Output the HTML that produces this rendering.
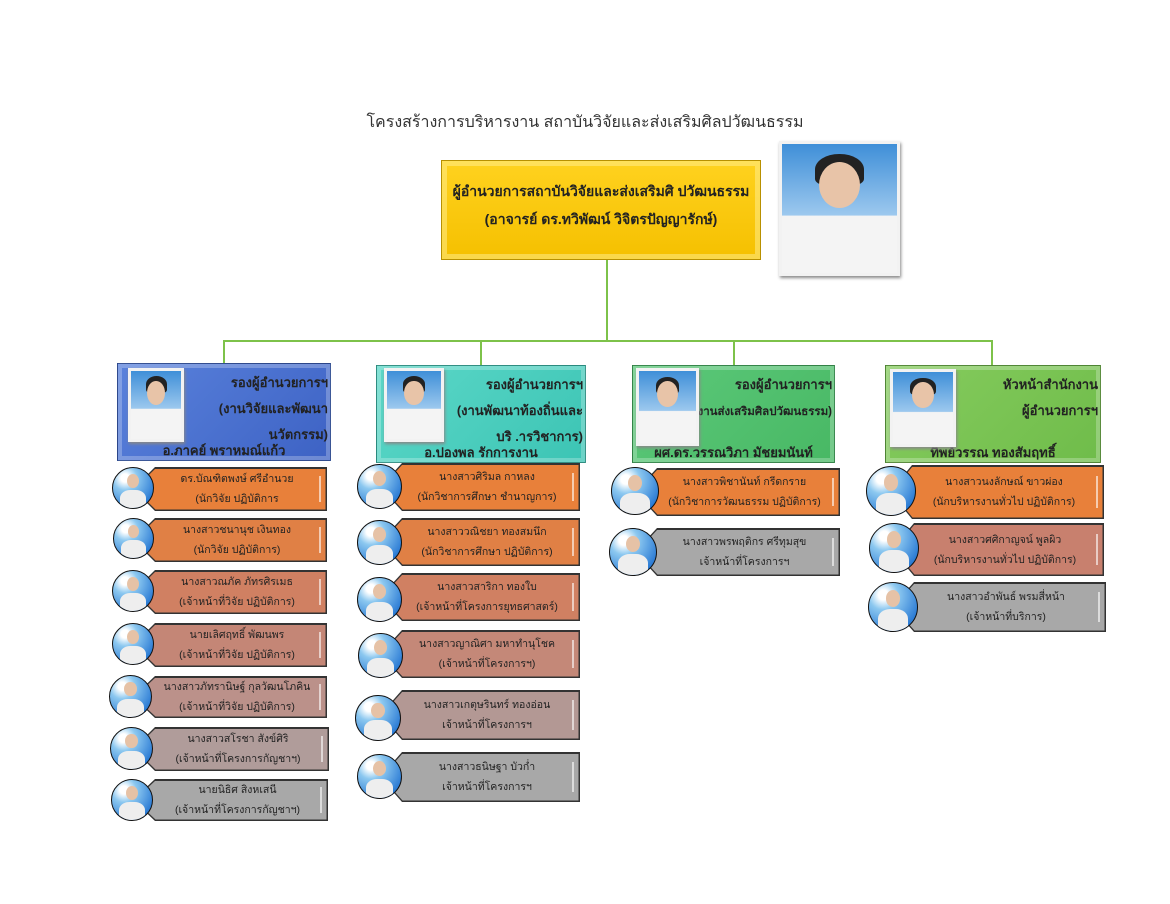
<!DOCTYPE html>
<html><head><meta charset="utf-8">
<style>
*{box-sizing:border-box;margin:0;padding:0}
body{width:1170px;height:904px;background:#fff;position:relative;overflow:hidden;font-family:"Liberation Sans","DejaVu Sans","Noto Sans CJK SC",sans-serif;color:#222}
.a{position:absolute}
.title{left:0;width:1170px;top:110px;text-align:center;font-size:16px;color:#333}
.gl{background:#7dc24a;position:absolute}
.dir{left:441px;top:160px;width:320px;height:100px;background:linear-gradient(#ffd21f,#f5c000);border:1px solid #b89000;box-shadow:inset 0 0 0 5px rgba(255,240,150,.5);text-align:center;font-weight:bold;font-size:14px;line-height:28px;padding-top:16px;color:#222}
.photo{position:absolute;background:linear-gradient(#3f8fd8,#9cc8ee 55%,#f4f4f4 56%);border:3px solid #f2f2f2;box-shadow:1px 2px 3px #888;overflow:hidden}
.photo::before{content:"";position:absolute;left:29%;top:8%;width:42%;height:24%;border-radius:50% 50% 20% 20%;background:#222}
.photo::after{content:"";position:absolute;left:32%;top:14%;width:36%;height:36%;border-radius:50%;background:#e8c4a8}
.dept{position:absolute;height:98px;border:1px solid rgba(0,0,0,.3);box-shadow:inset 0 0 0 4px rgba(255,255,255,.25);font-size:13px;font-weight:bold;color:#222;text-align:right;line-height:26px;padding:6px 2px 0 0}
.dept .nm{position:absolute;left:0;right:0;bottom:-4px;text-align:center}
.pill{position:absolute;background:#333;clip-path:polygon(0 50%,22px 0,100% 0,100% 100%,22px 100%)}
.pill i{position:absolute;left:1.5px;top:1.5px;right:1.5px;bottom:1.5px;clip-path:polygon(0 50%,21px 0,100% 0,100% 100%,21px 100%)}
.pill span{position:absolute;left:22px;right:8px;top:0;bottom:0;display:flex;flex-direction:column;justify-content:center;text-align:center;font-size:10.5px;line-height:20px;color:#222}
.pill b{position:absolute;right:6px;top:20%;height:60%;width:2px;background:rgba(255,255,255,.6)}
.cir{position:absolute;border-radius:50%;border:1.5px solid #111;background:radial-gradient(circle at 30% 25%,#fff 0 10%,#8cc8f0 30%,#1c6fd0 85%);overflow:hidden}
.cir::before{content:"";position:absolute;left:35%;top:15%;width:30%;height:35%;border-radius:50%;background:#e6c2a6}
.cir::after{content:"";position:absolute;left:18%;top:55%;width:64%;height:50%;border-radius:40% 40% 0 0;background:#eee}
</style></head><body>
<div class="a title">โครงสร้างการบริหารงาน สถาบันวิจัยและส่งเสริมศิลปวัฒนธรรม</div>

<div class="gl" style="left:606px;top:260px;width:2px;height:81px"></div>
<div class="gl" style="left:223px;top:340px;width:770px;height:2px"></div>
<div class="gl" style="left:223px;top:340px;width:2px;height:24px"></div>
<div class="gl" style="left:480px;top:340px;width:2px;height:26px"></div>
<div class="gl" style="left:733px;top:340px;width:2px;height:26px"></div>
<div class="gl" style="left:991px;top:340px;width:2px;height:26px"></div>

<div class="a dir">ผู้อำนวยการสถาบันวิจัยและส่งเสริมศิ ปวัฒนธรรม<br>(อาจารย์ ดร.ทวิพัฒน์ วิจิตรปัญญารักษ์)</div>
<div class="photo" style="left:779px;top:141px;width:121px;height:135px"></div>

<div class="dept" style="left:117px;top:363px;width:214px;background:linear-gradient(135deg,#5a82dc,#3d62c4)">รองผู้อำนวยการฯ<br>(งานวิจัยและพัฒนา<br>นวัตกรรม)<div class="nm">อ.ภาคย์ พราหมณ์แก้ว</div></div>
<div class="photo" style="left:128px;top:368px;width:56px;height:74px"></div>

<div class="dept" style="left:376px;top:365px;width:210px;background:linear-gradient(135deg,#5cd8c8,#3cc4b4)">รองผู้อำนวยการฯ<br>(งานพัฒนาท้องถิ่นและ<br>บริ .ารวิชาการ)<div class="nm">อ.ปองพล รักการงาน</div></div>
<div class="photo" style="left:384px;top:368px;width:60px;height:74px"></div>

<div class="dept" style="left:632px;top:365px;width:203px;background:linear-gradient(135deg,#5cc97a,#48b864)">รองผู้อำนวยการฯ<br><span style="font-size:11.5px">(งานส่งเสริมศิลปวัฒนธรรม)</span><div class="nm">ผศ.ดร.วรรณวิภา มัชยมนันท์</div></div>
<div class="photo" style="left:636px;top:368px;width:63px;height:78px"></div>

<div class="dept" style="left:885px;top:365px;width:216px;background:linear-gradient(135deg,#86cc5e,#6fbc4a)">หัวหน้าสำนักงาน<br>ผู้อำนวยการฯ<div class="nm">ทิพย์วรรณ ทองสัมฤทธิ์</div></div>
<div class="photo" style="left:890px;top:369px;width:66px;height:78px"></div>

<!-- col1 -->
<div class="pill" style="left:133px;top:467px;width:194px;height:44px"><i style="background:#e8803a"></i><span>ดร.บัณฑิตพงษ์ ศรีอำนวย<br>(นักวิจัย ปฏิบัติการ</span><b></b></div>
<div class="pill" style="left:133px;top:518px;width:194px;height:44px"><i style="background:#e08045"></i><span>นางสาวชนานุช เงินทอง<br>(นักวิจัย ปฏิบัติการ)</span><b></b></div>
<div class="pill" style="left:133px;top:570px;width:194px;height:44px"><i style="background:#d08062"></i><span>นางสาวณภัค ภัทรศิรเมธ<br>(เจ้าหน้าที่วิจัย ปฏิบัติการ)</span><b></b></div>
<div class="pill" style="left:133px;top:623px;width:194px;height:44px"><i style="background:#c48676"></i><span>นายเลิศฤทธิ์ พัฒนพร<br>(เจ้าหน้าที่วิจัย ปฏิบัติการ)</span><b></b></div>
<div class="pill" style="left:133px;top:676px;width:194px;height:42px"><i style="background:#bb918a"></i><span>นางสาวภัทรานิษฐ์ กุลวัฒนโภคิน<br>(เจ้าหน้าที่วิจัย ปฏิบัติการ)</span><b></b></div>
<div class="pill" style="left:133px;top:727px;width:196px;height:44px"><i style="background:#b09c9a"></i><span>นางสาวสโรชา สังข์ศิริ<br>(เจ้าหน้าที่โครงการกัญชาฯ)</span><b></b></div>
<div class="pill" style="left:133px;top:779px;width:195px;height:42px"><i style="background:#a8a8a8"></i><span>นายนิธิศ สิงหเสนี<br>(เจ้าหน้าที่โครงการกัญชาฯ)</span><b></b></div>
<div class="cir" style="left:112px;top:467px;width:42px;height:42px"></div>
<div class="cir" style="left:113px;top:518px;width:41px;height:41px"></div>
<div class="cir" style="left:112px;top:570px;width:42px;height:42px"></div>
<div class="cir" style="left:112px;top:623px;width:42px;height:42px"></div>
<div class="cir" style="left:109px;top:675px;width:43px;height:43px"></div>
<div class="cir" style="left:110px;top:727px;width:43px;height:43px"></div>
<div class="cir" style="left:111px;top:779px;width:42px;height:42px"></div>

<!-- col2 -->
<div class="pill" style="left:380px;top:463px;width:200px;height:48px"><i style="background:#e8803a"></i><span>นางสาวศิริมล กาหลง<br>(นักวิชาการศึกษา ชำนาญการ)</span><b></b></div>
<div class="pill" style="left:380px;top:518px;width:200px;height:48px"><i style="background:#e08045"></i><span>นางสาววณิชยา ทองสมนึก<br>(นักวิชาการศึกษา ปฏิบัติการ)</span><b></b></div>
<div class="pill" style="left:380px;top:573px;width:200px;height:48px"><i style="background:#d08062"></i><span>นางสาวสาริกา ทองใบ<br>(เจ้าหน้าที่โครงการยุทธศาสตร์)</span><b></b></div>
<div class="pill" style="left:380px;top:630px;width:200px;height:48px"><i style="background:#c48878"></i><span>นางสาวญาณิศา มหาทำนุโชค<br>(เจ้าหน้าที่โครงการฯ)</span><b></b></div>
<div class="pill" style="left:380px;top:690px;width:200px;height:50px"><i style="background:#b39894"></i><span>นางสาวเกตุษรินทร์ ทองอ่อน<br>เจ้าหน้าที่โครงการฯ</span><b></b></div>
<div class="pill" style="left:380px;top:752px;width:200px;height:50px"><i style="background:#a8a8a8"></i><span>นางสาวธนิษฐา บัวก่ำ<br>เจ้าหน้าที่โครงการฯ</span><b></b></div>
<div class="cir" style="left:357px;top:464px;width:45px;height:45px"></div>
<div class="cir" style="left:357px;top:520px;width:45px;height:45px"></div>
<div class="cir" style="left:357px;top:577px;width:45px;height:45px"></div>
<div class="cir" style="left:358px;top:633px;width:45px;height:45px"></div>
<div class="cir" style="left:355px;top:695px;width:46px;height:46px"></div>
<div class="cir" style="left:357px;top:754px;width:45px;height:45px"></div>

<!-- col3 -->
<div class="pill" style="left:635px;top:468px;width:205px;height:48px"><i style="background:#e8803a"></i><span>นางสาวพิชานันท์ กรีดกราย<br>(นักวิชาการวัฒนธรรม ปฏิบัติการ)</span><b></b></div>
<div class="pill" style="left:635px;top:528px;width:205px;height:48px"><i style="background:#a8a8a8"></i><span>นางสาวพรพฤติกร ศรีทุมสุข<br>เจ้าหน้าที่โครงการฯ</span><b></b></div>
<div class="cir" style="left:611px;top:467px;width:48px;height:48px"></div>
<div class="cir" style="left:609px;top:528px;width:48px;height:48px"></div>

<!-- col4 -->
<div class="pill" style="left:890px;top:465px;width:214px;height:54px"><i style="background:#e8803a"></i><span>นางสาวนงลักษณ์ ขาวผ่อง<br>(นักบริหารงานทั่วไป ปฏิบัติการ)</span><b></b></div>
<div class="pill" style="left:892px;top:523px;width:212px;height:53px"><i style="background:#c8806e"></i><span>นางสาวศศิกาญจน์ พูลผิว<br>(นักบริหารงานทั่วไป ปฏิบัติการ)</span><b></b></div>
<div class="pill" style="left:892px;top:582px;width:214px;height:50px"><i style="background:#a8a8a8"></i><span>นางสาวอำพันธ์ พรมสี่หน้า<br>(เจ้าหน้าที่บริการ)</span><b></b></div>
<div class="cir" style="left:866px;top:466px;width:50px;height:50px"></div>
<div class="cir" style="left:869px;top:523px;width:50px;height:50px"></div>
<div class="cir" style="left:868px;top:582px;width:50px;height:50px"></div>
</body></html>
